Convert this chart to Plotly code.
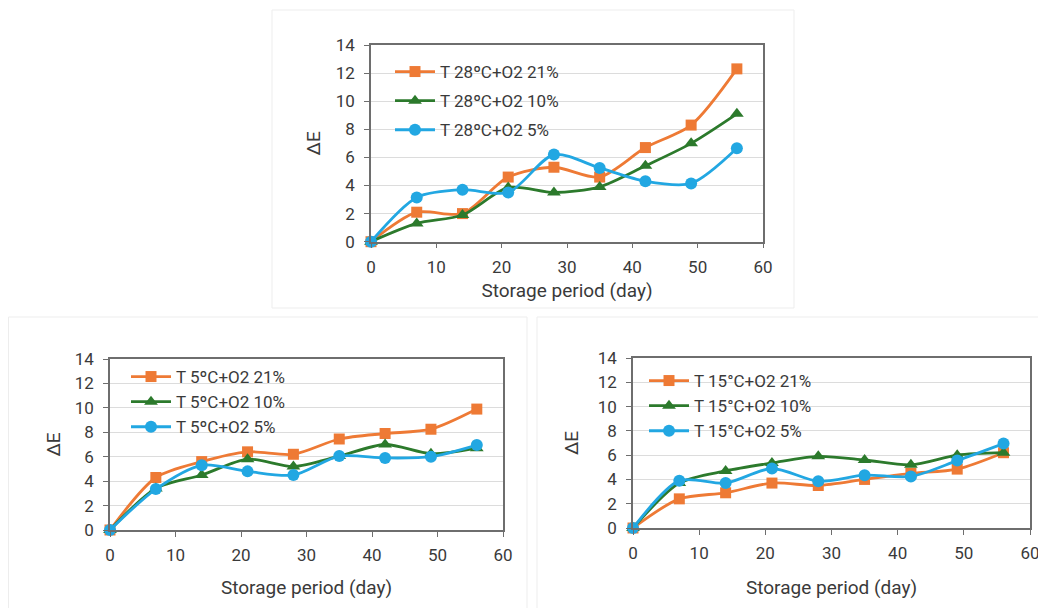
import plotly.graph_objects as go

days = [0, 7, 14, 21, 28, 35, 42, 49, 56]

# 28 °C panel (top)
t28_o21 = [0, 2.1, 2.0, 4.6, 5.3, 4.6, 6.7, 8.3, 12.3]
t28_o10 = [0, 1.3, 1.9, 3.85, 3.5, 3.9, 5.4, 7.0, 9.1]
t28_o5 = [0, 3.15, 3.7, 3.5, 6.2, 5.25, 4.3, 4.15, 6.65]

# 5 °C panel (bottom-left)
t5_o21 = [0, 4.3, 5.6, 6.4, 6.2, 7.45, 7.9, 8.25, 9.9]
t5_o10 = [0, 3.4, 4.5, 5.8, 5.2, 6.05, 7.0, 6.25, 6.7]
t5_o5 = [0, 3.35, 5.3, 4.8, 4.5, 6.05, 5.9, 6.0, 6.95]

# 15 °C panel (bottom-right)
t15_o21 = [0, 2.4, 2.9, 3.7, 3.5, 4.0, 4.5, 4.85, 6.2]
t15_o10 = [0, 3.7, 4.7, 5.35, 5.9, 5.6, 5.2, 6.0, 6.2]
t15_o5 = [0, 3.9, 3.7, 4.9, 3.85, 4.35, 4.25, 5.55, 6.95]

labels_28 = ["T 28ºC+O2 21%", "T 28ºC+O2 10%", "T 28ºC+O2 5%"]
labels_5 = ["T 5ºC+O2 21%", "T 5ºC+O2 10%", "T 5ºC+O2 5%"]
labels_15 = ["T 15°C+O2 21%", "T 15°C+O2 10%", "T 15°C+O2 5%"]

x_title = "Storage period (day)"
y_title = "ΔE"

ORANGE = "#EE7A35"
GREEN = "#2C7A2C"
BLUE = "#22A7E2"
styles = [
    (ORANGE, "square", 11),
    (GREEN, "triangle-up", 12),
    (BLUE, "circle", 12),
]

FONT = "Roboto"
TXT = "#3A3A3A"
W, H = 1046, 608
OFF = 8  # page body margin

fig = go.Figure()

panels = [
    ("x", "y", "legend", [t28_o21, t28_o10, t28_o5], labels_28),
    ("x2", "y2", "legend2", [t5_o21, t5_o10, t5_o5], labels_5),
    ("x3", "y3", "legend3", [t15_o21, t15_o10, t15_o5], labels_15),
]
for xa, ya, lg, series, labels in panels:
    for i, (vals, name) in enumerate(zip(series, labels)):
        col, sym, sz = styles[i]
        fig.add_trace(go.Scatter(
            x=days, y=vals, name=name, xaxis=xa, yaxis=ya, legend=lg,
            legendgroup=lg + str(i),
            mode="lines+markers",
            line=dict(color=col, width=2.8, shape="spline", smoothing=0.8),
            marker=dict(color=col, symbol=sym, size=sz),
            cliponaxis=False,
        ))

def px_x(v):
    return (v - OFF) / W

def px_y(v):
    return 1 - (v - OFF) / H

axis_common = dict(
    showline=True, linecolor="#6E6E6E", linewidth=1.5, mirror=True,
    ticks="outside", ticklen=5, tickcolor="#6E6E6E", tickwidth=1.2,
    zeroline=False, automargin=False,
    tickfont=dict(family=FONT, size=17, color=TXT),
)

def xaxis(dom, anchor, standoff):
    return dict(axis_common, domain=dom, anchor=anchor, range=[0, 60], dtick=10,
                showgrid=False, ticklabelstandoff=4,
                title=dict(text=x_title, standoff=standoff,
                           font=dict(family=FONT, size=19, color=TXT)))

def yaxis(dom, anchor, standoff):
    return dict(axis_common, domain=dom, anchor=anchor, range=[0, 14], dtick=2,
                showgrid=True, gridcolor="#DCDCDC", gridwidth=1, ticklabelstandoff=6,
                title=dict(text=y_title, standoff=standoff,
                           font=dict(family=FONT, size=19, color=TXT)))

leg_common = dict(bgcolor="rgba(0,0,0,0)", borderwidth=0,
                  font=dict(family=FONT, size=17, color=TXT),
                  xanchor="left", yanchor="top", itemwidth=40)

fig.update_layout(
    width=W, height=H,
    margin=dict(l=0, r=0, t=0, b=0, autoexpand=False),
    paper_bgcolor="white", plot_bgcolor="white",
    xaxis=xaxis([px_x(371), px_x(763)], "y", 8),
    yaxis=yaxis([px_y(241.7), px_y(45)], "x", 10),
    xaxis2=xaxis([px_x(110), px_x(503)], "y2", 17),
    yaxis2=yaxis([px_y(530), px_y(359)], "x2", 9),
    xaxis3=xaxis([px_x(633), px_x(1030)], "y3", 19),
    yaxis3=yaxis([px_y(528), px_y(358)], "x3", 14),
    legend=dict(leg_common, x=px_x(390), y=px_y(54), tracegroupgap=4),
    legend2=dict(leg_common, x=px_x(126), y=px_y(359), tracegroupgap=0),
    legend3=dict(leg_common, x=px_x(644), y=px_y(363), tracegroupgap=0),
    shapes=[
        dict(type="rect", xref="paper", yref="paper",
             x0=px_x(272), x1=px_x(794), y0=px_y(308), y1=px_y(10),
             line=dict(color="#EDEDED", width=1)),
        dict(type="rect", xref="paper", yref="paper",
             x0=px_x(8.5), x1=px_x(527), y0=px_y(620), y1=px_y(317),
             line=dict(color="#EDEDED", width=1)),
        dict(type="rect", xref="paper", yref="paper",
             x0=px_x(537), x1=px_x(1060), y0=px_y(620), y1=px_y(317),
             line=dict(color="#EDEDED", width=1)),
    ],
)

fig.write_html("out.html")
